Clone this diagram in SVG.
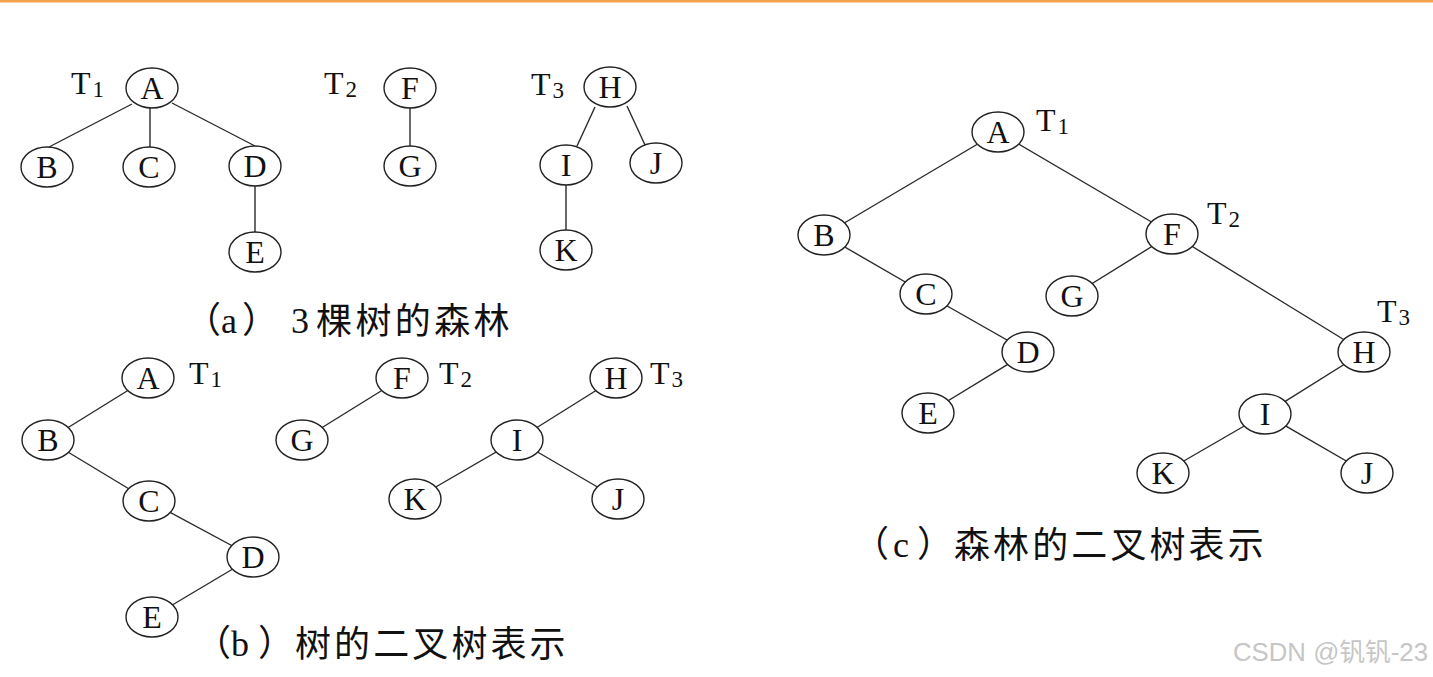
<svg xmlns="http://www.w3.org/2000/svg" width="1433" height="677" viewBox="0 0 1433 677">
<style>
.n ellipse{fill:#fff;stroke:#222;stroke-width:1.4}
.n text{font-family:"Liberation Serif",serif;font-size:32px;fill:#111;text-anchor:middle}
.e line{stroke:#2a2a2a;stroke-width:1.4}
.t{font-family:"Liberation Serif",serif;font-size:32px;fill:#111}
.t tspan{font-size:23px}
.cap{font-family:"Noto Sans CJK SC",sans-serif;font-size:36px;fill:#111}
.cap .lat{font-family:"Liberation Serif",serif}
</style>
<rect x="0" y="0" width="1433" height="677" fill="#fff"/>
<rect x="0" y="0" width="1433" height="2.5" fill="#f5a34a"/>

<g id="connectors" class="e">
<!-- (a) -->
<line x1="132" y1="104" x2="49" y2="147"/>
<line x1="150" y1="108" x2="150" y2="147"/>
<line x1="172" y1="103" x2="255" y2="146"/>
<line x1="255" y1="186" x2="255" y2="232"/>
<line x1="410" y1="108" x2="410" y2="146"/>
<line x1="595" y1="107" x2="577" y2="146"/>
<line x1="627" y1="106" x2="645" y2="145"/>
<line x1="566" y1="185" x2="566" y2="230"/>
<!-- (b) -->
<line x1="148" y1="378" x2="48" y2="440"/>
<line x1="48" y1="440" x2="149" y2="501"/>
<line x1="149" y1="501" x2="253" y2="557"/>
<line x1="253" y1="557" x2="152" y2="617"/>
<line x1="402" y1="378" x2="302" y2="440"/>
<line x1="616" y1="378" x2="517" y2="440"/>
<line x1="517" y1="440" x2="415" y2="499"/>
<line x1="517" y1="440" x2="618" y2="499"/>
<!-- (c) -->
<line x1="998" y1="132" x2="824" y2="235"/>
<line x1="998" y1="132" x2="1172" y2="234"/>
<line x1="824" y1="235" x2="926" y2="294"/>
<line x1="926" y1="294" x2="1028" y2="352"/>
<line x1="1028" y1="352" x2="928" y2="413"/>
<line x1="1172" y1="234" x2="1072" y2="296"/>
<line x1="1172" y1="234" x2="1364" y2="352"/>
<line x1="1364" y1="352" x2="1265" y2="414"/>
<line x1="1265" y1="414" x2="1163" y2="473"/>
<line x1="1265" y1="414" x2="1367" y2="473"/>
</g>

<!-- (a) forest -->
<g id="a-A" class="n"><ellipse cx="152" cy="88" rx="26" ry="20"/><text x="152" y="99">A</text></g>
<g id="a-B" class="n"><ellipse cx="47" cy="167" rx="26" ry="20"/><text x="47" y="178">B</text></g>
<g id="a-C" class="n"><ellipse cx="149" cy="167" rx="26" ry="20"/><text x="149" y="178">C</text></g>
<g id="a-D" class="n"><ellipse cx="255" cy="166" rx="26" ry="20"/><text x="255" y="177">D</text></g>
<g id="a-E" class="n"><ellipse cx="255" cy="252" rx="26" ry="20"/><text x="255" y="263">E</text></g>
<g id="a-F" class="n"><ellipse cx="410" cy="88" rx="26" ry="20"/><text x="410" y="99">F</text></g>
<g id="a-G" class="n"><ellipse cx="410" cy="166" rx="26" ry="20"/><text x="410" y="177">G</text></g>
<g id="a-H" class="n"><ellipse cx="610" cy="87" rx="26" ry="20"/><text x="610" y="98">H</text></g>
<g id="a-I" class="n"><ellipse cx="566" cy="165" rx="26" ry="20"/><text x="566" y="176">I</text></g>
<g id="a-J" class="n"><ellipse cx="656" cy="163" rx="26" ry="20"/><text x="656" y="174">J</text></g>
<g id="a-K" class="n"><ellipse cx="566" cy="250" rx="26" ry="20"/><text x="566" y="261">K</text></g>
<g id="a-labels">
<text class="t" x="71" y="94">T<tspan dx="2" dy="3">1</tspan></text>
<text class="t" x="324" y="94">T<tspan dx="2" dy="3">2</tspan></text>
<text class="t" x="531" y="95">T<tspan dx="2" dy="3">3</tspan></text>
</g>
<g id="caption-a">
<text class="cap" y="333"><tspan x="185">（</tspan><tspan class="lat" x="221">a</tspan><tspan x="242">）</tspan><tspan class="lat" x="291">3</tspan><tspan x="316" dy="1" letter-spacing="3.4">棵树的森林</tspan></text>
</g>

<!-- (b) binary trees -->
<g id="b-A" class="n"><ellipse cx="148" cy="378" rx="26" ry="20"/><text x="148" y="389">A</text></g>
<g id="b-B" class="n"><ellipse cx="48" cy="440" rx="26" ry="20"/><text x="48" y="451">B</text></g>
<g id="b-C" class="n"><ellipse cx="149" cy="501" rx="26" ry="20"/><text x="149" y="512">C</text></g>
<g id="b-D" class="n"><ellipse cx="253" cy="557" rx="26" ry="20"/><text x="253" y="568">D</text></g>
<g id="b-E" class="n"><ellipse cx="152" cy="617" rx="26" ry="20"/><text x="152" y="628">E</text></g>
<g id="b-F" class="n"><ellipse cx="402" cy="378" rx="26" ry="20"/><text x="402" y="389">F</text></g>
<g id="b-G" class="n"><ellipse cx="302" cy="440" rx="26" ry="20"/><text x="302" y="451">G</text></g>
<g id="b-H" class="n"><ellipse cx="616" cy="378" rx="26" ry="20"/><text x="616" y="389">H</text></g>
<g id="b-I" class="n"><ellipse cx="517" cy="440" rx="26" ry="20"/><text x="517" y="451">I</text></g>
<g id="b-K" class="n"><ellipse cx="415" cy="499" rx="26" ry="20"/><text x="415" y="510">K</text></g>
<g id="b-J" class="n"><ellipse cx="618" cy="499" rx="26" ry="20"/><text x="618" y="510">J</text></g>
<g id="b-labels">
<text class="t" x="189" y="384">T<tspan dx="2" dy="3">1</tspan></text>
<text class="t" x="439" y="384">T<tspan dx="2" dy="3">2</tspan></text>
<text class="t" x="650" y="384">T<tspan dx="2" dy="3">3</tspan></text>
</g>
<g id="caption-b">
<text class="cap" y="656"><tspan x="195">（</tspan><tspan class="lat" x="231">b</tspan><tspan x="258">）</tspan><tspan x="295" dy="1" letter-spacing="3.1">树的二叉树表示</tspan></text>
</g>

<!-- (c) forest as binary tree -->
<g id="c-A" class="n"><ellipse cx="998" cy="132" rx="26" ry="20"/><text x="998" y="143">A</text></g>
<g id="c-B" class="n"><ellipse cx="824" cy="235" rx="26" ry="20"/><text x="824" y="246">B</text></g>
<g id="c-C" class="n"><ellipse cx="926" cy="294" rx="26" ry="20"/><text x="926" y="305">C</text></g>
<g id="c-D" class="n"><ellipse cx="1028" cy="352" rx="26" ry="20"/><text x="1028" y="363">D</text></g>
<g id="c-E" class="n"><ellipse cx="928" cy="413" rx="26" ry="20"/><text x="928" y="424">E</text></g>
<g id="c-F" class="n"><ellipse cx="1172" cy="234" rx="26" ry="20"/><text x="1172" y="245">F</text></g>
<g id="c-G" class="n"><ellipse cx="1072" cy="296" rx="26" ry="20"/><text x="1072" y="307">G</text></g>
<g id="c-H" class="n"><ellipse cx="1364" cy="352" rx="26" ry="20"/><text x="1364" y="363">H</text></g>
<g id="c-I" class="n"><ellipse cx="1265" cy="414" rx="26" ry="20"/><text x="1265" y="425">I</text></g>
<g id="c-K" class="n"><ellipse cx="1163" cy="473" rx="26" ry="20"/><text x="1163" y="484">K</text></g>
<g id="c-J" class="n"><ellipse cx="1367" cy="473" rx="26" ry="20"/><text x="1367" y="484">J</text></g>
<g id="c-labels">
<text class="t" x="1036" y="131">T<tspan dx="2" dy="3">1</tspan></text>
<text class="t" x="1207" y="224">T<tspan dx="2" dy="3">2</tspan></text>
<text class="t" x="1377" y="322">T<tspan dx="2" dy="3">3</tspan></text>
</g>
<g id="caption-c">
<text class="cap" y="557"><tspan x="853">（</tspan><tspan class="lat" x="893">c</tspan><tspan x="917">）</tspan><tspan x="954" dy="1" letter-spacing="3.1">森林的二叉树表示</tspan></text>
</g>

<text x="1233" y="661" font-family="Liberation Sans,'Noto Sans CJK SC',sans-serif" font-size="25" fill="#c6c6c6" textLength="195" lengthAdjust="spacingAndGlyphs">CSDN @钒钒-23</text>
</svg>
